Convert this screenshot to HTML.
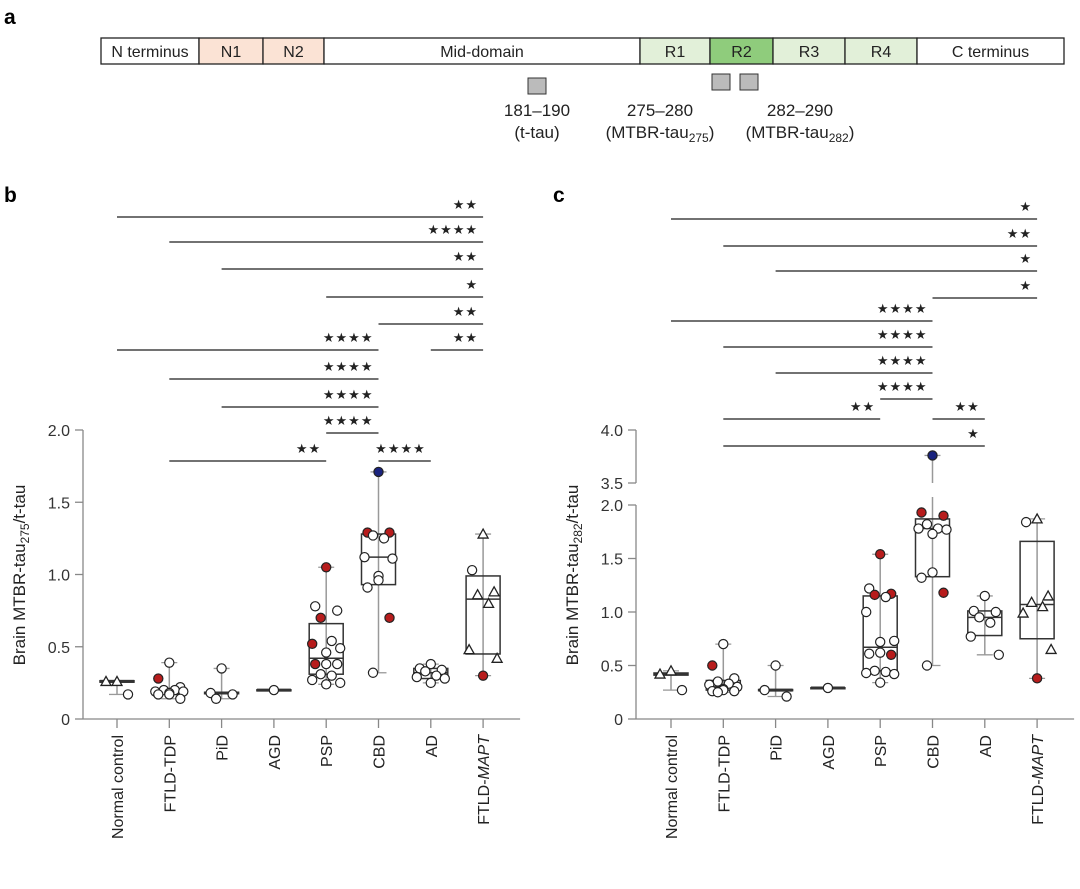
<!DOCTYPE html>
<html><head><meta charset="utf-8"><style>
body{margin:0;background:#fff;}
svg{font-family:"Liberation Sans",Arial,sans-serif;}
</style></head><body>
<svg id="fig" width="1080" height="884" viewBox="0 0 1080 884" xmlns="http://www.w3.org/2000/svg">
<text x="4" y="24" font-size="21" font-weight="bold">a</text>
<text x="4" y="202" font-size="21" font-weight="bold">b</text>
<text x="553" y="202" font-size="21" font-weight="bold">c</text>
<g id="domain"></g>
<g id="pb"></g>
<g id="pc"></g>
</svg>
<script>
const categories=["Normal control","FTLD-TDP","PiD","AGD","PSP","CBD","AD","FTLD-MAPT"];
// box stats: [min,q1,median,q3,max]
const boxB=[[0.17,0.255,0.26,0.265,0.265],[0.14,0.17,0.19,0.21,0.39],[0.14,0.175,0.18,0.185,0.35],[0.2,0.198,0.2,0.202,0.2],[0.24,0.31,0.42,0.66,1.05],[0.32,0.93,1.12,1.28,1.71],[0.25,0.28,0.32,0.35,0.38],[0.30,0.45,0.83,0.99,1.28]];
const ptsB=[[[0.26,"t"],[0.26,"t"],[0.17,"c"]],
[[0.39,"c"],[0.28,"r"],[0.22,"c"],[0.2,"c"],[0.2,"c"],[0.19,"c"],[0.19,"c"],[0.18,"c"],[0.17,"c"],[0.17,"c"],[0.14,"c"]],
[[0.35,"c"],[0.18,"c"],[0.17,"c"],[0.14,"c"]],
[[0.2,"c"]],
[[1.05,"r"],[0.78,"c"],[0.75,"c"],[0.70,"r"],[0.54,"c"],[0.52,"r"],[0.49,"c"],[0.46,"c"],[0.38,"c"],[0.38,"r"],[0.38,"c"],[0.31,"c"],[0.30,"c"],[0.27,"c"],[0.25,"c"],[0.24,"c"]],
[[1.71,"b"],[1.29,"r"],[1.29,"r"],[1.27,"c"],[1.25,"c"],[1.12,"c"],[1.11,"c"],[0.99,"c"],[0.96,"c"],[0.91,"c"],[0.70,"r"],[0.32,"c"]],
[[0.38,"c"],[0.35,"c"],[0.34,"c"],[0.33,"c"],[0.30,"c"],[0.29,"c"],[0.28,"c"],[0.25,"c"]],
[[1.28,"t"],[1.03,"c"],[0.88,"t"],[0.86,"t"],[0.80,"t"],[0.48,"t"],[0.42,"t"],[0.30,"r"]]];
const boxC=[[0.27,0.41,0.42,0.43,0.45],[0.25,0.27,0.30,0.36,0.70],[0.21,0.265,0.27,0.275,0.50],[0.29,0.288,0.29,0.292,0.29],[0.34,0.45,0.67,1.15,1.54],[0.50,1.33,1.78,1.87,3.76],[0.60,0.78,0.95,1.01,1.15],[0.38,0.75,1.07,1.66,1.87]];
const ptsC=[[[0.45,"t"],[0.42,"t"],[0.27,"c"]],
[[0.70,"c"],[0.50,"r"],[0.38,"c"],[0.35,"c"],[0.33,"c"],[0.32,"c"],[0.30,"c"],[0.28,"c"],[0.27,"c"],[0.26,"c"],[0.26,"c"],[0.25,"c"]],
[[0.50,"c"],[0.27,"c"],[0.21,"c"]],
[[0.29,"c"]],
[[1.54,"r"],[1.22,"c"],[1.17,"r"],[1.16,"r"],[1.14,"c"],[1.0,"c"],[0.73,"c"],[0.72,"c"],[0.62,"c"],[0.61,"c"],[0.60,"r"],[0.45,"c"],[0.44,"c"],[0.43,"c"],[0.42,"c"],[0.34,"c"]],
[[3.76,"b"],[1.93,"r"],[1.90,"r"],[1.82,"c"],[1.78,"c"],[1.78,"c"],[1.77,"c"],[1.73,"c"],[1.37,"c"],[1.32,"c"],[1.18,"r"],[0.50,"c"]],
[[1.15,"c"],[1.01,"c"],[1.0,"c"],[0.95,"c"],[0.90,"c"],[0.77,"c"],[0.60,"c"]],
[[1.87,"t"],[1.84,"c"],[1.15,"t"],[1.09,"t"],[1.05,"t"],[0.99,"t"],[0.65,"t"],[0.38,"r"]]];
const ticksB=[0,0.5,1.0,1.5,2.0];
const tickLabelsB=["0","0.5","1.0","1.5","2.0"];
const ticksC=[0,0.5,1.0,1.5,2.0,3.5,4.0];
const tickLabelsC=["0","0.5","1.0","1.5","2.0","3.5","4.0"];
// significance: [fromIndex,toIndex,stars,level]
const sigB=[[0,7,"**",0],[1,7,"****",1],[2,7,"**",2],[4,7,"*",3],[5,7,"**",4],[6,7,"**",5],[0,5,"****",5],[1,5,"****",6],[2,5,"****",7],[4,5,"****",8],[1,4,"**",9],[5,6,"****",9]];
const sigC=[[0,7,"*",0],[1,7,"**",1],[2,7,"*",2],[5,7,"*",3],[0,5,"****",4],[1,5,"****",5],[2,5,"****",6],[4,5,"****",7],[1,4,"**",8],[5,6,"**",8],[1,6,"*",9]];
const sigYB=[217,242,269,297,324,350,379,407,433,461];
const sigYC=[219,246,271,298,321,347,373,399,419,446];

const NS="http://www.w3.org/2000/svg";
function mk(parent,tag,attrs,text){const e=document.createElementNS(NS,tag);for(const k in attrs)e.setAttribute(k,attrs[k]);if(text!==undefined)e.textContent=text;parent.appendChild(e);return e;}

(function(){
const g=document.getElementById('domain');
const segs=[["N terminus",101,199,"#fff"],["N1",199,263,"#fbe3d5"],["N2",263,324,"#fbe3d5"],["Mid-domain",324,640,"#fff"],["R1",640,710,"#e2f0d9"],["R2",710,773,"#8fcc7c"],["R3",773,845,"#e2f0d9"],["R4",845,917,"#e2f0d9"],["C terminus",917,1064,"#fff"]];
segs.forEach(s=>{
const r=mk(g,'rect',{x:s[1],y:38,width:s[2]-s[1],height:26,fill:s[3],stroke:"#222","stroke-width":1.3});


const t=mk(g,'text',{x:(s[1]+s[2])/2,y:57,"font-size":16,"text-anchor":"middle",fill:"#222"},s[0]);


});
[[528,78],[712,74],[740,74]].forEach(p=>{
const r=mk(g,'rect',{x:p[0],y:p[1],width:18,height:16,fill:"#bbb",stroke:"#333","stroke-width":1});


});
const labs=[[537,116,"181–190"],[537,138,"(t-tau)"],[660,116,"275–280"],[800,116,"282–290"]];
labs.forEach(l=>{const t=mk(g,'text',{x:l[0],y:l[1],"font-size":17,"text-anchor":"middle",fill:"#222"},l[2]);
});
[[660,"275"],[800,"282"]].forEach(l=>{
const t=mk(g,'text',{x:l[0],y:138,"font-size":17,"text-anchor":"middle",fill:"#222"});

t.innerHTML='(MTBR-tau<tspan font-size="12" dy="4">'+l[1]+'</tspan><tspan dy="-4">)</tspan>';
});
})();

const jit=[0,-11,11,-5.5,5.5,-14,14,0];
function drawPanel(gid,x0,xStep,axisX,yf,boxes,pts,ticks,tickLabels,sig,sigY,sub,broken){
const g=document.getElementById(gid);
const xf=i=>x0+i*xStep;
const ax="#888";
if(broken){
mk(g,'line',{x1:axisX,y1:yf(0),x2:axisX,y2:yf(2.0),stroke:ax,"stroke-width":1.3});
mk(g,'line',{x1:axisX,y1:yf(3.5),x2:axisX,y2:yf(4.0),stroke:ax,"stroke-width":1.3});
}else mk(g,'line',{x1:axisX,y1:yf(0),x2:axisX,y2:yf(ticks[ticks.length-1]),stroke:ax,"stroke-width":1.3});
mk(g,'line',{x1:axisX,y1:719,x2:xf(7)+37,y2:719,stroke:ax,"stroke-width":1.3});
ticks.forEach((v,i)=>{
const y=yf(v);
mk(g,'line',{x1:axisX-8,y1:y,x2:axisX,y2:y,stroke:ax,"stroke-width":1.3});
const t=mk(g,'text',{x:axisX-13,y:y+6,"font-size":16,"text-anchor":"end",fill:"#333"},tickLabels[i]);

});
categories.forEach((c,i)=>{
const x=xf(i);
mk(g,'line',{x1:x,y1:719,x2:x,y2:728,stroke:ax,"stroke-width":1.3});
const t=mk(g,'text',{x:0,y:0,"font-size":16,"text-anchor":"end",fill:"#222",transform:`translate(${x+6},735) rotate(-90)`});

if(c==="FTLD-MAPT") t.innerHTML='FTLD-<tspan font-style="italic">MAPT</tspan>'; else t.textContent=c;
});
const yt=mk(g,'text',{x:0,y:0,"font-size":17,"text-anchor":"middle",fill:"#222",transform:`translate(${axisX-58},575) rotate(-90)`});

yt.innerHTML='Brain MTBR-tau<tspan font-size="12" dy="4">'+sub+'</tspan><tspan dy="-4">/t-tau</tspan>';
boxes.forEach((b,i)=>{
const x=xf(i),hw=17;
const gb=mk(g,'g',{});


if(broken && b[4]>2){
mk(gb,'line',{x1:x,y1:yf(b[0]),x2:x,y2:yf(2.0)-8,stroke:"#999","stroke-width":1.5});
mk(gb,'line',{x1:x,y1:yf(3.5),x2:x,y2:yf(b[4]),stroke:"#999","stroke-width":1.5});
}else mk(gb,'line',{x1:x,y1:yf(b[0]),x2:x,y2:yf(b[4]),stroke:"#999","stroke-width":1.5});
[b[0],b[4]].forEach(v=>mk(gb,'line',{x1:x-8,y1:yf(v),x2:x+8,y2:yf(v),stroke:"#999","stroke-width":1.3}));
const h=Math.max(yf(b[1])-yf(b[3]),1);
mk(gb,'rect',{x:x-hw,y:yf(b[3]),width:2*hw,height:h,fill:"none",stroke:"#333","stroke-width":1.5});
mk(gb,'line',{x1:x-hw,y1:yf(b[2]),x2:x+hw,y2:yf(b[2]),stroke:"#333","stroke-width":h<3?3:1.5});
});
pts.forEach((arr,i)=>{
const x=xf(i);
arr.forEach((p,j)=>{
const off=arr.length===1?0:jit[j%jit.length];
const px=x+off,py=yf(p[0]);
let e;
if(p[1]==="t"){e=mk(g,'path',{d:`M${px},${py-5} L${px+5},${py+4} L${px-5},${py+4} Z`,fill:"#fff",stroke:"#222","stroke-width":1.3});}
else{const f=p[1]==="r"?"#b71c1c":p[1]==="b"?"#1a237e":"#fff";
e=mk(g,'circle',{cx:px,cy:py,r:4.6,fill:f,stroke:"#222","stroke-width":1.2});}


});
});
sig.forEach(s=>{
const y=sigY[s[3]],xa=xf(s[0]),xb=xf(s[1]);
const l=mk(g,'line',{x1:xa,y1:y,x2:xb,y2:y,stroke:"#444","stroke-width":1.4});

const t=mk(g,'text',{x:xb-5,y:y-8,"font-size":13,"text-anchor":"end",fill:"#222","font-family":"DejaVu Sans, sans-serif","letter-spacing":"1"},s[2].replace(/\*/g,"★"));

});
}
drawPanel('pb',117,52.3,83,v=>719-v*144.5,boxB,ptsB,ticksB,tickLabelsB,sigB,sigYB,"275",false);
drawPanel('pc',671,52.3,636,v=>v<=2?719-v*107:483-(v-3.5)*106,boxC,ptsC,ticksC,tickLabelsC,sigC,sigYC,"282",true);
</script>
</body></html>
